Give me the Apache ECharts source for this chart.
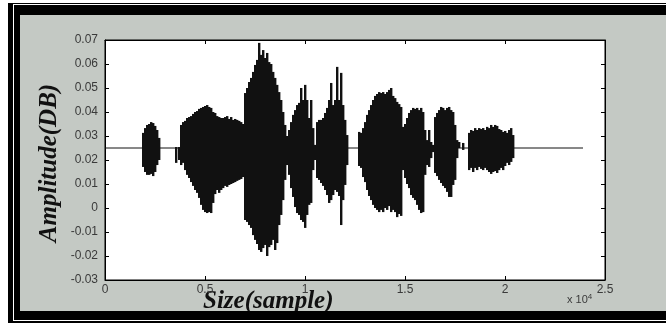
<!DOCTYPE html>
<html>
<head>
<meta charset="utf-8">
<script src="https://cdn.jsdelivr.net/npm/echarts@6/dist/echarts.min.js"></script>
<style>
  html, body { margin: 0; padding: 0; background: #fff; }
  .f { position: absolute; }
</style>
</head>
<body>
<div class="f" style="left:8px;top:3px;width:658px;height:320px;background:#000"></div>
<div class="f" style="left:13px;top:4px;width:653px;height:317px;background:#fff"></div>
<div class="f" style="left:14px;top:5px;width:652px;height:315px;background:#000"></div>
<div id="main" class="f" style="left:20px;top:15px;width:646px;height:296px;background:#c4c9c4"></div>
<script>
// ---- data (samples, amplitude) ----
const xTickLabels = ['0', '0.5', '1', '1.5', '2', '2.5'];
const yTickLabels = ['-0.03', '-0.02', '-0.01', '0', '0.01', '0.02', '0.03', '0.04', '0.05', '0.06', '0.07'];

const baselineX = [0, 23900];
const baselineY = [0.025, 0.025];

const sampleX = [
  1850, 1950, 2050, 2150, 2250, 2350, 2450, 2550, 2650,
  3500, 3650,
  3750, 3850, 3950, 4050, 4150, 4250, 4350, 4450, 4550, 4650, 4750, 4850, 4950, 5050, 5150, 5250,
  5350, 5450, 5550, 5650, 5750, 5850, 5950, 6050, 6150, 6250, 6350, 6450, 6550, 6650, 6750, 6850,
  6950, 7050, 7150, 7250, 7350, 7450, 7550, 7650, 7750, 7850, 7950, 8050, 8150, 8250, 8350, 8450,
  8550, 8650, 8750, 8850, 8950,
  9050, 9150, 9250, 9350, 9450, 9550, 9650, 9750, 9850, 9950, 10050, 10150, 10250, 10350,
  10450, 10550, 10650, 10750, 10850, 10950, 11050, 11150, 11250, 11350, 11450, 11550, 11650, 11750,
  11850, 11950, 12050,
  12650, 12750, 12850, 12950, 13050, 13150, 13250, 13350, 13450, 13550, 13650, 13750, 13850, 13950,
  14050, 14150, 14250, 14350, 14450, 14550, 14650, 14750,
  14850, 14950, 15050, 15150, 15250, 15350, 15450, 15550, 15650, 15750, 15850, 15950,
  16050, 16150, 16250, 16350,
  16450, 16550, 16650, 16750, 16850, 16950, 17050, 17150, 17250, 17350, 17450, 17550, 17650, 17850,
  18150, 18250, 18350, 18450, 18550, 18650, 18750, 18850, 18950, 19050, 19150, 19250, 19350, 19450,
  19550, 19650, 19750, 19850, 19950, 20050, 20150, 20250, 20350
];

const upperEnv = [
  0.0313, 0.0333, 0.0346, 0.0350, 0.0358, 0.0354, 0.0342, 0.0325, 0.0292,
  0.0254, 0.0254,
  0.0346, 0.0358, 0.0363, 0.0375, 0.0379, 0.0383, 0.0392, 0.0400, 0.0404, 0.0413, 0.0417, 0.0421, 0.0425, 0.0429, 0.0421, 0.0417,
  0.0400, 0.0396, 0.0383, 0.0379, 0.0375, 0.0375, 0.0379, 0.0383, 0.0371, 0.0379, 0.0367, 0.0371, 0.0367, 0.0363, 0.0358, 0.0350,
  0.0479, 0.0500, 0.0525, 0.0542, 0.0567, 0.0596, 0.0617, 0.0688, 0.0638, 0.0658, 0.0625, 0.0646, 0.0608, 0.0600, 0.0567, 0.0542,
  0.0513, 0.0483, 0.0450, 0.0400, 0.0346,
  0.0300, 0.0325, 0.0358, 0.0388, 0.0408, 0.0429, 0.0438, 0.0500, 0.0450, 0.0513, 0.0450, 0.0375, 0.0450, 0.0333,
  0.0263, 0.0358, 0.0367, 0.0367, 0.0375, 0.0396, 0.0417, 0.0450, 0.0521, 0.0429, 0.0450, 0.0588, 0.0450, 0.0563,
  0.0429, 0.0367, 0.0304,
  0.0317, 0.0313, 0.0333, 0.0358, 0.0388, 0.0408, 0.0429, 0.0450, 0.0467, 0.0475, 0.0483, 0.0479, 0.0483, 0.0475,
  0.0483, 0.0492, 0.0500, 0.0467, 0.0458, 0.0442, 0.0433, 0.0421,
  0.0338, 0.0350, 0.0375, 0.0396, 0.0408, 0.0417, 0.0413, 0.0417, 0.0408, 0.0417, 0.0400, 0.0325,
  0.0283, 0.0325, 0.0275, 0.0263,
  0.0379, 0.0396, 0.0408, 0.0421, 0.0417, 0.0408, 0.0417, 0.0421, 0.0408, 0.0400, 0.0346, 0.0283, 0.0275, 0.0271,
  0.0313, 0.0325, 0.0321, 0.0333, 0.0325, 0.0333, 0.0329, 0.0333, 0.0325, 0.0338, 0.0333, 0.0346, 0.0338, 0.0346,
  0.0342, 0.0329, 0.0325, 0.0317, 0.0321, 0.0313, 0.0325, 0.0333, 0.0304
];

const lowerEnv = [
  0.0171, 0.0150, 0.0138, 0.0138, 0.0142, 0.0133, 0.0150, 0.0179, 0.0200,
  0.0188, 0.0200,
  0.0179, 0.0188, 0.0158, 0.0138, 0.0125, 0.0108, 0.0092, 0.0075, 0.0063, 0.0042, 0.0013, -0.0008, -0.0017, -0.0021, -0.0017, -0.0021,
  0.0021, 0.0058, 0.0075, 0.0063, 0.0075, 0.0083, 0.0092, 0.0088, 0.0096, 0.0100, 0.0104, 0.0108, 0.0113, 0.0117, 0.0121, 0.0129,
  -0.0050, -0.0058, -0.0071, -0.0083, -0.0113, -0.0133, -0.0150, -0.0175, -0.0183, -0.0167, -0.0154, -0.0200, -0.0163, -0.0154, -0.0133, -0.0175,
  -0.0146, -0.0071, -0.0029, 0.0033, 0.0117,
  0.0179, 0.0138, 0.0083, 0.0046, 0.0004, -0.0021, -0.0029, -0.0050, -0.0058, -0.0083, -0.0029, 0.0013, 0.0021, 0.0158,
  0.0200, 0.0125, 0.0117, 0.0104, 0.0092, 0.0075, 0.0054, 0.0021, 0.0033, 0.0054, 0.0075, 0.0067, 0.0050, -0.0071,
  0.0033, 0.0096, 0.0179,
  0.0175, 0.0167, 0.0129, 0.0108, 0.0075, 0.0050, 0.0033, 0.0013, 0.0000, -0.0008, -0.0017, -0.0008, -0.0017, 0.0000,
  -0.0008, 0.0008, -0.0017, -0.0008, -0.0017, -0.0038, -0.0025, -0.0033,
  0.0158, 0.0125, 0.0100, 0.0083, 0.0054, 0.0042, 0.0033, 0.0013, -0.0008, -0.0021, -0.0017, 0.0138,
  0.0179, 0.0171, 0.0208, 0.0233,
  0.0146, 0.0133, 0.0117, 0.0104, 0.0092, 0.0083, 0.0067, 0.0046, 0.0046, 0.0096, 0.0117, 0.0208, 0.0250, 0.0242,
  0.0158, 0.0167, 0.0150, 0.0167, 0.0158, 0.0171, 0.0163, 0.0158, 0.0167, 0.0158, 0.0150, 0.0142, 0.0150, 0.0154,
  0.0146, 0.0158, 0.0167, 0.0158, 0.0175, 0.0188, 0.0179, 0.0192, 0.0208
];

// ---- chart ----
const SAMPLE_STEP = 100;
const waveData = sampleX.map((x, i) => [x, lowerEnv[i], upperEnv[i]]);
const baseData = baselineX.map((x, i) => [x, baselineY[i]]);

const chart = echarts.init(document.getElementById('main'), null, { renderer: 'canvas' });

const tickFont = { fontFamily: 'Liberation Sans, Arial, sans-serif', fontSize: 12, color: '#3a3a3a' };

function yLabel(v) {
  const idx = Math.round((v + 0.03) / 0.01);
  return yTickLabels[idx] !== undefined ? yTickLabels[idx] : '';
}
function xLabel(v) {
  const idx = Math.round(v / 5000);
  return xTickLabels[idx] !== undefined ? xTickLabels[idx] : '';
}

chart.setOption({
  animation: false,
  backgroundColor: 'transparent',
  grid: {
    left: 85, top: 25, width: 500, height: 240,
    show: true, backgroundColor: '#ffffff', borderColor: '#000', borderWidth: 1
  },
  xAxis: [
    {
      type: 'value', position: 'bottom', min: 0, max: 25000, interval: 5000,
      axisLine: { show: true, onZero: false, lineStyle: { color: '#000', width: 1 } },
      axisTick: { show: true, inside: true, length: 4, lineStyle: { color: '#000' } },
      axisLabel: Object.assign({ margin: 4, formatter: xLabel }, tickFont),
      splitLine: { show: false }
    },
    {
      type: 'value', position: 'top', min: 0, max: 25000, interval: 5000,
      axisLine: { show: true, onZero: false, lineStyle: { color: '#000', width: 1 } },
      axisTick: { show: true, inside: true, length: 4, lineStyle: { color: '#000' } },
      axisLabel: { show: false },
      splitLine: { show: false }
    }
  ],
  yAxis: [
    {
      type: 'value', position: 'left', min: -0.03, max: 0.07, interval: 0.01,
      axisLine: { show: true, onZero: false, lineStyle: { color: '#000', width: 1 } },
      axisTick: { show: true, inside: true, length: 4, lineStyle: { color: '#000' } },
      axisLabel: Object.assign({ margin: 7, formatter: yLabel }, tickFont),
      splitLine: { show: false }
    },
    {
      type: 'value', position: 'right', min: -0.03, max: 0.07, interval: 0.01,
      axisLine: { show: true, onZero: false, lineStyle: { color: '#000', width: 1 } },
      axisTick: { show: true, inside: true, length: 4, lineStyle: { color: '#000' } },
      axisLabel: { show: false },
      splitLine: { show: false }
    }
  ],
  graphic: [
    {
      type: 'text', x: 183, y: 287,
      style: {
        text: 'Size(sample)', fill: '#111',
        font: 'italic bold 25px "Liberation Serif", "Times New Roman", serif',
        align: 'left', verticalAlign: 'middle'
      }
    },
    {
      type: 'text', x: 30, y: 148, rotation: Math.PI / 2,
      style: {
        text: 'Amplitude(DB)', fill: '#111',
        font: 'italic bold 25px "Liberation Serif", "Times New Roman", serif',
        align: 'center', verticalAlign: 'middle'
      }
    },
    {
      type: 'text', x: 547, y: 278,
      style: {
        text: 'x 10{sup|4}', fill: '#3a3a3a',
        font: '11px "Liberation Sans", Arial, sans-serif',
        rich: { sup: { fontSize: 8, verticalAlign: 'top', padding: [0, 0, 6, 0], fill: '#3a3a3a' } }
      }
    }
  ],
  series: [
    {
      type: 'line', data: baseData, symbol: 'none', silent: true, z: 1,
      lineStyle: { color: '#111', width: 1 }
    },
    {
      type: 'custom', data: waveData, silent: true, z: 2,
      encode: { x: 0, y: [1, 2] },
      renderItem: function (params, api) {
        const x = api.value(0), lo = api.value(1), hi = api.value(2);
        const pTop = api.coord([x, hi]);
        const pBot = api.coord([x, lo]);
        const w = api.size([SAMPLE_STEP, 0])[0];
        return {
          type: 'rect',
          shape: { x: pTop[0], y: pTop[1], width: w + 0.4, height: pBot[1] - pTop[1] },
          style: { fill: '#111' }
        };
      }
    }
  ]
});
</script>
</body>
</html>
